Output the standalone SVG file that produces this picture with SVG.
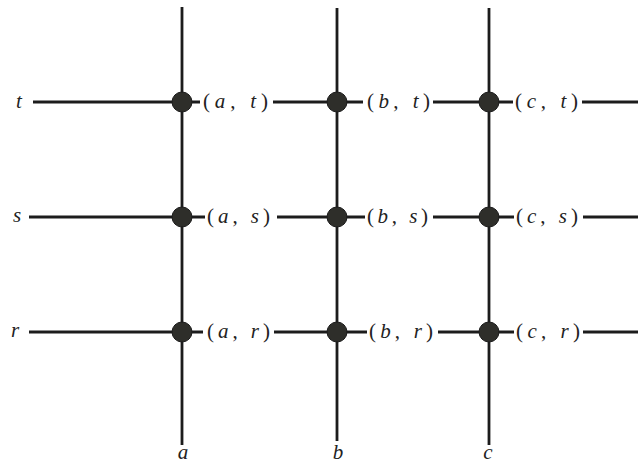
<svg xmlns="http://www.w3.org/2000/svg" width="638" height="464" viewBox="0 0 638 464">
<defs>
<style>
.ln{stroke:#1c1c1c;stroke-width:2.8;fill:none;stroke-linecap:butt}
.dot{fill:#2e2e2a;stroke:#1c1c1c;stroke-width:1}
.it{font-style:italic}
</style>
</defs>
<rect width="638" height="464" fill="#ffffff"/>
<g id="connectors">
<line class="ln" x1="182" y1="7" x2="182" y2="445"/>
<line class="ln" x1="337" y1="8" x2="337" y2="441"/>
<line class="ln" x1="489" y1="8" x2="489" y2="445"/>
<line class="ln" x1="33" y1="102" x2="200" y2="102"/>
<line class="ln" x1="273" y1="102" x2="363" y2="102"/>
<line class="ln" x1="433" y1="102" x2="513" y2="102"/>
<line class="ln" x1="582" y1="102" x2="638" y2="102"/>
<line class="ln" x1="29" y1="217" x2="205" y2="217"/>
<line class="ln" x1="277" y1="217" x2="365" y2="217"/>
<line class="ln" x1="433" y1="217" x2="514" y2="217"/>
<line class="ln" x1="583" y1="217" x2="638" y2="217"/>
<line class="ln" x1="29" y1="332" x2="203" y2="332"/>
<line class="ln" x1="274" y1="332" x2="367" y2="332"/>
<line class="ln" x1="438" y1="332" x2="514" y2="332"/>
<line class="ln" x1="583" y1="332" x2="638" y2="332"/>
</g>
<g font-family="Liberation Serif, DejaVu Serif, serif" font-size="21" fill="#222">
<g id="row-t"><text class="it" x="19" y="108" text-anchor="middle">t</text></g>
<g id="row-s"><text class="it" x="17" y="222" text-anchor="middle">s</text></g>
<g id="row-r"><text class="it" x="15" y="337" text-anchor="middle">r</text></g>
<g id="col-a"><text class="it" x="183" y="459" text-anchor="middle">a</text></g>
<g id="col-b"><text class="it" x="338" y="459" text-anchor="middle">b</text></g>
<g id="col-c"><text class="it" x="488" y="459" text-anchor="middle">c</text></g>
<g id="node-a-t"><circle class="dot" cx="182" cy="102" r="10"/><text x="203" y="108" textLength="65" lengthAdjust="spacing">(<tspan class="it">a</tspan>, <tspan class="it">t</tspan>)</text></g>
<g id="node-b-t"><circle class="dot" cx="337" cy="102" r="10"/><text x="367" y="108" textLength="63" lengthAdjust="spacing">(<tspan class="it">b</tspan>, <tspan class="it">t</tspan>)</text></g>
<g id="node-c-t"><circle class="dot" cx="489" cy="102" r="10"/><text x="515" y="108" textLength="63" lengthAdjust="spacing">(<tspan class="it">c</tspan>, <tspan class="it">t</tspan>)</text></g>
<g id="node-a-s"><circle class="dot" cx="182" cy="217" r="10"/><text x="207" y="223" textLength="63" lengthAdjust="spacing">(<tspan class="it">a</tspan>, <tspan class="it">s</tspan>)</text></g>
<g id="node-b-s"><circle class="dot" cx="337" cy="217" r="10"/><text x="367" y="223" textLength="61" lengthAdjust="spacing">(<tspan class="it">b</tspan>, <tspan class="it">s</tspan>)</text></g>
<g id="node-c-s"><circle class="dot" cx="489" cy="217" r="10"/><text x="516" y="223" textLength="62" lengthAdjust="spacing">(<tspan class="it">c</tspan>, <tspan class="it">s</tspan>)</text></g>
<g id="node-a-r"><circle class="dot" cx="182" cy="332" r="10"/><text x="207" y="338" textLength="63" lengthAdjust="spacing">(<tspan class="it">a</tspan>, <tspan class="it">r</tspan>)</text></g>
<g id="node-b-r"><circle class="dot" cx="337" cy="332" r="10"/><text x="369" y="338" textLength="64" lengthAdjust="spacing">(<tspan class="it">b</tspan>, <tspan class="it">r</tspan>)</text></g>
<g id="node-c-r"><circle class="dot" cx="489" cy="332" r="10"/><text x="516" y="338" textLength="64" lengthAdjust="spacing">(<tspan class="it">c</tspan>, <tspan class="it">r</tspan>)</text></g>
</g>
</svg>
